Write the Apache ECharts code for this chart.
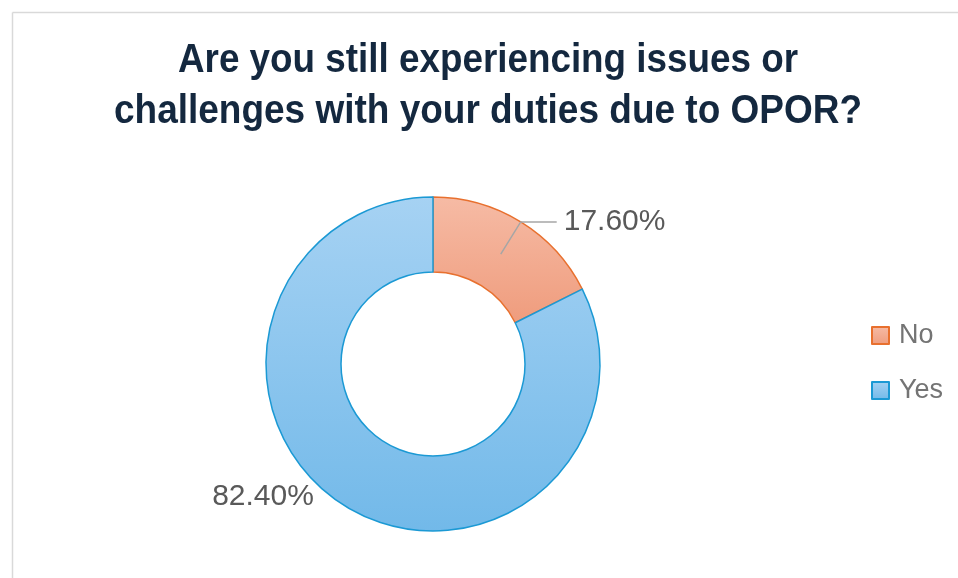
<!DOCTYPE html>
<html><head><meta charset="utf-8">
<script src="https://cdn.jsdelivr.net/npm/echarts@6/dist/echarts.min.js"></script>
<style>html,body{margin:0;padding:0;background:#fff}#c{width:958px;height:578px}</style>
</head><body><div id="c"></div>
<script>
var titleLines = ["Are you still experiencing issues or", "challenges with your duties due to OPOR?"];
var categories = ["No", "Yes"];
var values = [17.6, 82.4];

var titleFont = 'bold 41px "Liberation Sans"';
var titleTargetW = [620, 748];
var mc = document.createElement('canvas').getContext('2d');
mc.font = titleFont;
var titleScale = titleLines.map(function (t, i) { return titleTargetW[i] / mc.measureText(t).width; });

var chart = echarts.init(document.getElementById('c'), null, {renderer: 'canvas'});
var fills = [
  new echarts.graphic.LinearGradient(0, 0, 0, 1, [{offset: 0, color: '#f6bba5'}, {offset: 1, color: '#ef9c7d'}]),
  new echarts.graphic.LinearGradient(0, 0, 0, 1, [{offset: 0, color: '#a6d2f3'}, {offset: 1, color: '#72b9e9'}])
];
var borders = ['#e8702e', '#1b99d4'];
var titleY = [61, 112];
chart.setOption({
  animation: false,
  graphic: [
    {type: 'line', shape: {x1: 12.5, y1: 12.5, x2: 958, y2: 12.5}, style: {stroke: '#d9d9d9', lineWidth: 1.5}},
    {type: 'line', shape: {x1: 12.5, y1: 12.5, x2: 12.5, y2: 578}, style: {stroke: '#d9d9d9', lineWidth: 1.5}}
  ].concat(titleLines.map(function (t, i) {
    return {
      type: 'text', x: 488, y: titleY[i], scaleX: titleScale[i],
      style: {text: t, font: titleFont, fill: '#14283f', textAlign: 'center', textVerticalAlign: 'middle'}
    };
  })),
  legend: {
    orient: 'vertical', left: 866, top: 317,
    itemWidth: 17, itemHeight: 17, itemGap: 28,
    icon: 'rect',
    textStyle: {fontFamily: 'Liberation Sans', fontSize: 27, color: '#747474', padding: [0, 0, 0, 5]},
    data: categories
  },
  series: [{
    type: 'pie',
    z: 2,
    center: [433, 364],
    radius: [92, 167],
    startAngle: 90,
    clockwise: true,
    label: {show: false},
    labelLine: {show: false},
    data: categories.map(function (c, i) {
      return {name: c, value: values[i], itemStyle: {color: fills[i], borderColor: borders[i], borderWidth: 1.5}};
    })
  }, {
    type: 'pie',
    name: 'labels',
    z: 5,
    center: [433, 364],
    radius: [0, 129],
    startAngle: 90,
    clockwise: true,
    silent: true,
    legendHoverLink: false,
    itemStyle: {color: 'rgba(0,0,0,0)', borderWidth: 0},
    emphasis: {disabled: true},
    data: categories.map(function (c, i) {
      var item = {name: c, value: values[i]};
      if (i === 1) item.labelLine = {show: false};
      return item;
    }),
    label: {
      formatter: function (p) { return p.value.toFixed(2) + '%'; },
      fontFamily: 'Liberation Sans', fontSize: 30, color: '#595959', distanceToLabelLine: 7
    },
    labelLine: {show: true, length: 38, length2: 36, smooth: false, lineStyle: {color: '#a6a6a6', width: 1.5}},
    labelLayout: function (p) {
      if (p.dataIndex === 1) return {x: 263, y: 497, align: 'center', verticalAlign: 'middle'};
      return {};
    }
  }]
});
</script></body></html>
